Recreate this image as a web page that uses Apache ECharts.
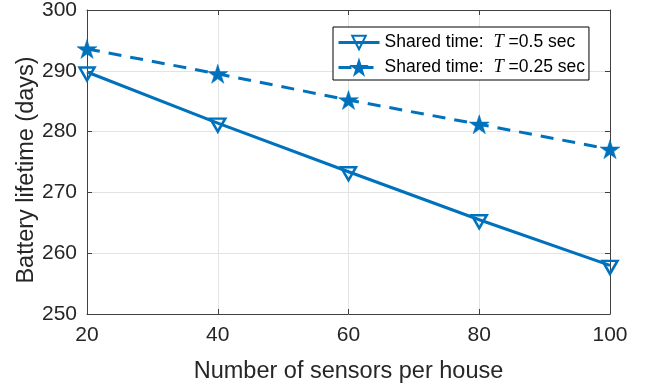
<!DOCTYPE html>
<html><head><meta charset="utf-8">
<script src="https://cdn.jsdelivr.net/npm/echarts@6/dist/echarts.min.js"></script>
<style>html,body{margin:0;padding:0;background:#fff}#c{width:648px;height:388px}</style>
</head><body><div id="c"></div>
<script>
// ---- data ----
const sensors = [20, 40, 60, 80, 100];
const lifetimeT05 = [289.8, 281.4, 273.4, 265.5, 258.0];
const lifetimeT025 = [293.6, 289.5, 285.2, 281.2, 277.1];
const xTicks = [20, 40, 60, 80, 100];
const yTicks = [250, 260, 270, 280, 290, 300];
const seriesNames = ['T05', 'T025'];
const legendPeriods = ['0.5', '0.25'];
const xTitle = 'Number of sensors per house';
const yTitle = 'Battery lifetime (days)';

// ---- style ----
const BLUE = '#0072BD';
const TXT = '#262626';
const AX = '#404040';
const FONT = '"Liberation Sans", Arial, Helvetica, sans-serif';
const STAR = 'path://M50,0L61.17,34.63L97.55,34.55L68.07,55.87L79.39,90.45L50,69L20.61,90.45L31.93,55.87L2.45,34.55L38.83,34.63Z';

const pairs = (xs, ys) => xs.map((x, i) => [x, ys[i]]);
const xStep = xTicks[1] - xTicks[0];
const yStep = yTicks[1] - yTicks[0];

const chart = echarts.init(document.getElementById('c'), null, {renderer: 'canvas'});
chart.setOption({
  animation: false,
  backgroundColor: '#fff',
  textStyle: {fontFamily: FONT, color: TXT},
  grid: {left: 87, right: 38, top: 10, bottom: 74, containLabel: false, outerBoundsMode: 'none'},
  legend: {
    orient: 'vertical',
    left: 333, top: 27,
    padding: [6, 4, 3, 4],
    itemWidth: 41, itemHeight: 17, itemGap: 6,
    borderColor: '#000', borderWidth: 1, backgroundColor: '#fff',
    lineStyle: {width: 3},
    data: seriesNames,
    formatter: function (name) {
      const i = seriesNames.indexOf(name);
      return 'Shared time:  {t|T} =' + legendPeriods[i] + ' sec';
    },
    textStyle: {
      fontFamily: FONT, fontSize: 17.5, color: '#000',
      rich: {t: {fontFamily: '"Liberation Serif", "Times New Roman", serif', fontStyle: 'italic', fontSize: 18.5, color: '#000'}}
    }
  },
  xAxis: [{
    type: 'value', min: xTicks[0], max: xTicks[xTicks.length - 1], interval: xStep,
    name: xTitle, nameLocation: 'middle', nameGap: 46, nameMoveOverlap: false,
    nameTextStyle: {fontFamily: FONT, fontSize: 23.5, color: TXT},
    axisLine: {show: true, lineStyle: {color: AX, width: 1}},
    axisTick: {show: true, inside: true, length: 5, lineStyle: {color: AX}},
    axisLabel: {fontFamily: FONT, fontSize: 21, color: TXT, margin: 11},
    splitLine: {show: true, lineStyle: {color: '#e3e3e3', width: 1}}
  }, {
    type: 'value', position: 'top', min: xTicks[0], max: xTicks[xTicks.length - 1], interval: xStep,
    axisLine: {show: true, onZero: false, lineStyle: {color: AX, width: 1}},
    axisTick: {show: true, inside: true, length: 5, lineStyle: {color: AX}},
    axisLabel: {show: false}, splitLine: {show: false}
  }],
  yAxis: [{
    type: 'value', min: yTicks[0], max: yTicks[yTicks.length - 1], interval: yStep,
    name: yTitle, nameLocation: 'middle', nameGap: 48, nameMoveOverlap: false,
    nameTextStyle: {fontFamily: FONT, fontSize: 23.5, color: TXT, padding: [0, 16, 0, 0]},
    axisLine: {show: true, onZero: false, lineStyle: {color: AX, width: 1}},
    axisTick: {show: true, inside: true, length: 5, lineStyle: {color: AX}},
    axisLabel: {fontFamily: FONT, fontSize: 21, color: TXT, margin: 10},
    splitLine: {show: true, lineStyle: {color: '#e3e3e3', width: 1}}
  }, {
    type: 'value', position: 'right', min: yTicks[0], max: yTicks[yTicks.length - 1], interval: yStep,
    axisLine: {show: true, onZero: false, lineStyle: {color: AX, width: 1}},
    axisTick: {show: true, inside: true, length: 5, lineStyle: {color: AX}},
    axisLabel: {show: false}, splitLine: {show: false}
  }],
  series: [{
    name: seriesNames[0], type: 'line', xAxisIndex: 0, yAxisIndex: 0,
    data: pairs(sensors, lifetimeT05),
    symbol: 'triangle', symbolRotate: 180, symbolSize: [15, 13], symbolOffset: [0, 2],
    showAllSymbol: true,
    lineStyle: {color: BLUE, width: 3, type: 'solid'},
    itemStyle: {color: 'rgba(255,255,255,0)', borderColor: BLUE, borderWidth: 2.5},
    emphasis: {disabled: true}, z: 3
  }, {
    name: seriesNames[1], type: 'line', xAxisIndex: 0, yAxisIndex: 0,
    data: pairs(sensors, lifetimeT025),
    symbol: STAR, symbolSize: [20, 19], showAllSymbol: true,
    lineStyle: {color: BLUE, width: 3, type: [13, 9]},
    itemStyle: {color: BLUE, borderColor: BLUE, borderWidth: 0.5},
    emphasis: {disabled: true}, z: 3
  }]
});
</script></body></html>
